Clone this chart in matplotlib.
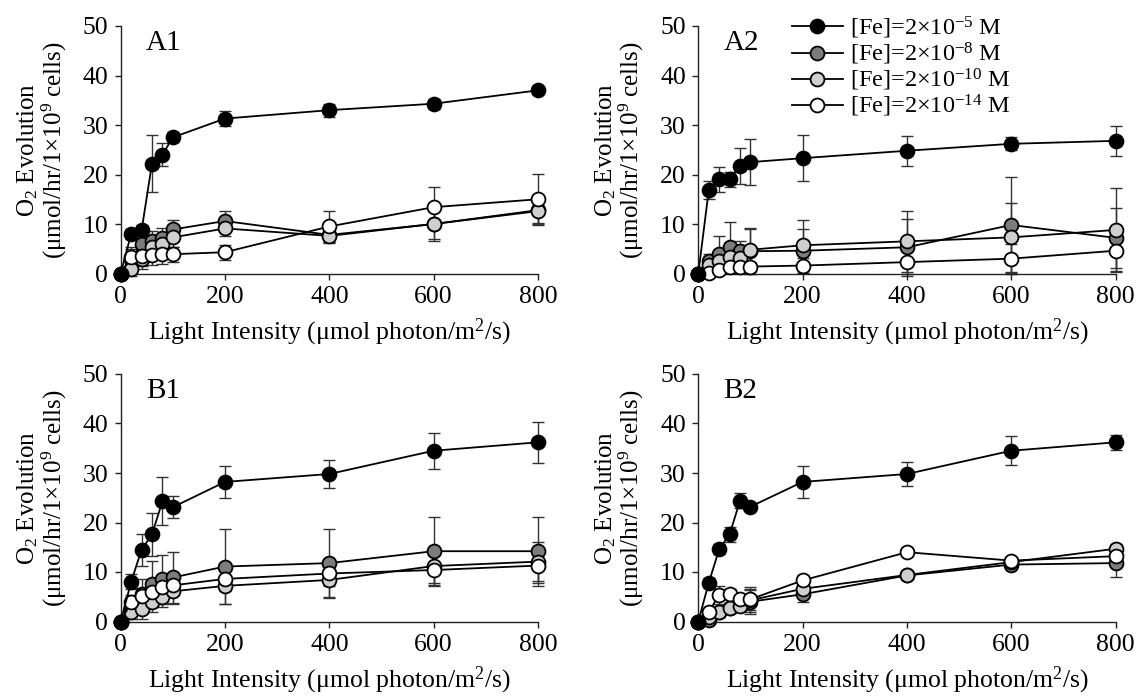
import numpy as np
import matplotlib
matplotlib.use('Agg')
import matplotlib.pyplot as plt

plt.rcParams['font.family'] = ['Liberation Serif', 'DejaVu Serif']
plt.rcParams['mathtext.fontset'] = 'custom'
plt.rcParams['mathtext.rm'] = 'Liberation Serif'
plt.rcParams['mathtext.default'] = 'regular'

# light intensity (umol photon/m2/s)
light = [0, 20, 40, 60, 80, 100, 200, 400, 600, 800]

labels = ['[Fe]=2×10$^{-5}$ M', '[Fe]=2×10$^{-8}$ M',
          '[Fe]=2×10$^{-10}$ M', '[Fe]=2×10$^{-14}$ M']
face = ['black', '#7c7c7c', '#cfcfcf', 'white']
order = [5, 2, 3, 4]

# A1
a1_fe5 = [0, 8.0, 8.7, 22.2, 24.0, 27.5, 31.3, 33.0, 34.3, 37.0]
a1_fe5_err = [0, 1.0, 1.0, 5.7, 2.3, 1.0, 1.5, 1.3, 1.0, 0.5]
a1_fe8 = [0, 3.0, 6.0, 6.5, 7.2, 8.9, 10.6, 7.8, 10.0, 12.8]
a1_fe8_err = [0, 2.0, 2.0, 2.0, 2.0, 2.0, 2.0, 1.5, 3.0, 2.5]
a1_fe10 = [0, 0.9, 3.0, 5.3, 6.0, 7.3, 9.1, 7.6, 10.0, 12.6]
a1_fe10_err = [0, 1.5, 2.0, 2.0, 2.0, 2.0, 1.5, 1.5, 3.5, 2.7]
a1_fe14 = [0, 3.4, 3.5, 3.7, 3.9, 3.9, 4.3, 9.5, 13.4, 15.0]
a1_fe14_err = [0, 2.0, 2.0, 2.0, 2.0, 1.5, 1.5, 3.2, 4.0, 5.2]

# A2
a2_fe5 = [0, 16.8, 19.0, 19.0, 21.7, 22.5, 23.3, 24.8, 26.2, 26.8]
a2_fe5_err = [0, 1.8, 2.5, 1.5, 3.7, 4.7, 4.6, 3.0, 1.3, 3.0]
a2_fe8 = [0, 2.5, 4.0, 5.3, 4.5, 4.5, 4.6, 5.3, 9.8, 7.2]
a2_fe8_err = [0, 1.5, 3.5, 5.1, 2.0, 4.5, 4.4, 5.8, 9.7, 6.0]
a2_fe10 = [0, 1.8, 2.5, 3.3, 3.2, 4.8, 5.7, 6.5, 7.3, 8.8]
a2_fe10_err = [0, 1.5, 1.5, 2.0, 2.5, 4.3, 5.2, 6.1, 7.0, 8.4]
a2_fe14 = [0, 0.2, 0.8, 1.3, 1.4, 1.4, 1.6, 2.3, 3.0, 4.6]
a2_fe14_err = [0, 0.5, 0.5, 0.8, 0.8, 1.0, 1.5, 2.3, 3.0, 4.0]

# B1
b1_fe5 = [0, 8.0, 14.5, 17.6, 24.3, 23.1, 28.2, 29.8, 34.5, 36.2]
b1_fe5_err = [0, 1.5, 3.2, 4.3, 4.9, 2.2, 3.3, 2.9, 3.6, 4.1]
b1_fe8 = [0, 3.0, 5.5, 7.6, 8.5, 8.9, 11.1, 11.8, 14.2, 14.2]
b1_fe8_err = [0, 2.0, 3.0, 4.6, 5.0, 5.1, 7.5, 6.9, 7.0, 7.0]
b1_fe10 = [0, 2.0, 2.6, 4.0, 5.0, 6.1, 7.2, 8.4, 11.2, 12.1]
b1_fe10_err = [0, 1.5, 2.0, 2.0, 2.0, 2.5, 3.7, 3.7, 3.5, 4.0]
b1_fe14 = [0, 3.9, 5.2, 6.0, 6.9, 7.3, 8.6, 9.7, 10.4, 11.3]
b1_fe14_err = [0, 1.5, 1.5, 2.0, 2.0, 2.0, 2.5, 2.5, 3.0, 3.5]

# B2
b2_fe5 = [0, 7.8, 14.6, 17.6, 24.4, 23.2, 28.2, 29.8, 34.5, 36.2]
b2_fe5_err = [0, 1.0, 1.0, 1.5, 1.5, 0.8, 3.2, 2.4, 2.9, 1.5]
b2_fe8 = [0, 0.3, 2.0, 2.8, 3.5, 4.0, 5.5, 9.3, 11.5, 11.8]
b2_fe8_err = [0, 0.5, 1.0, 1.0, 1.0, 2.5, 1.5, 0.8, 0.8, 2.8]
b2_fe10 = [0, 1.0, 2.0, 2.7, 3.2, 4.3, 6.6, 9.4, 12.0, 14.7]
b2_fe10_err = [0, 0.8, 1.0, 1.0, 1.0, 2.0, 1.0, 0.8, 0.8, 1.0]
b2_fe14 = [0, 1.9, 5.4, 5.5, 4.5, 4.5, 8.3, 14.0, 12.3, 13.2]
b2_fe14_err = [0, 0.8, 1.8, 1.0, 1.0, 2.5, 1.0, 0.8, 0.8, 1.0]

panels = [
    ('A1', [a1_fe5, a1_fe8, a1_fe10, a1_fe14],
     [a1_fe5_err, a1_fe8_err, a1_fe10_err, a1_fe14_err]),
    ('A2', [a2_fe5, a2_fe8, a2_fe10, a2_fe14],
     [a2_fe5_err, a2_fe8_err, a2_fe10_err, a2_fe14_err]),
    ('B1', [b1_fe5, b1_fe8, b1_fe10, b1_fe14],
     [b1_fe5_err, b1_fe8_err, b1_fe10_err, b1_fe14_err]),
    ('B2', [b2_fe5, b2_fe8, b2_fe10, b2_fe14],
     [b2_fe5_err, b2_fe8_err, b2_fe10_err, b2_fe14_err]),
]

W, H = 1138, 698
fig = plt.figure(figsize=(W / 100, H / 100), dpi=100)

# axes boxes in pixels: left, y of zero line
boxes = [(120.7, 273.5), (698.3, 273.5), (120.7, 621.5), (698.3, 621.5)]
aw, ah = 417.3, 247.5

for (name, ys, errs), (lx, y0) in zip(panels, boxes):
    ax = fig.add_axes([lx / W, 1 - y0 / H, aw / W, ah / H])
    lines = []
    for i in range(4):
        ax.errorbar(light, ys[i], yerr=errs[i], fmt='none', ecolor='#333333',
                    elinewidth=1.0, capsize=4, capthick=1.0, zorder=1,
                    clip_on=False)
        ln, = ax.plot(light, ys[i], '-o', color='black', lw=1.3,
                      mfc=face[i], mec='black', mew=1.3, ms=10,
                      zorder=order[i], clip_on=False, label=labels[i])
        lines.append(ln)
    ax.set_xlim(0, 800)
    ax.set_ylim(0, 50)
    ax.set_xticks([0, 200, 400, 600, 800])
    ax.set_yticks([0, 10, 20, 30, 40, 50])
    for s in ['top', 'right']:
        ax.spines[s].set_visible(False)
    for s in ['left', 'bottom']:
        ax.spines[s].set_linewidth(1.0)
        ax.spines[s].set_color('#222222')
    ax.tick_params(direction='out', length=4, width=1.0, labelsize=18.5,
                   color='#222222')
    ax.tick_params(axis='x', pad=5)
    ax.tick_params(axis='y', pad=5)
    ax.set_xlabel('Light Intensity (μmol photon/m$^2$/s)', fontsize=18.5,
                  labelpad=6)
    ax.set_ylabel('O$_2$ Evolution\n(μmol/hr/1×10$^9$ cells)', fontsize=18,
                  linespacing=0.95)
    ax.yaxis.set_label_coords(-0.125, 0.5)
    ax.text(48, 46.5, name, fontsize=21, ha='left', va='center')
    if name == 'A2':
        ax.legend(handles=lines, loc='upper left', frameon=False,
                  bbox_to_anchor=(0.195, 1.095), fontsize=17.5, borderpad=0,
                  labelspacing=0.0, handlelength=2.1, handletextpad=0.3)

fig.savefig('out.png', dpi=100)
